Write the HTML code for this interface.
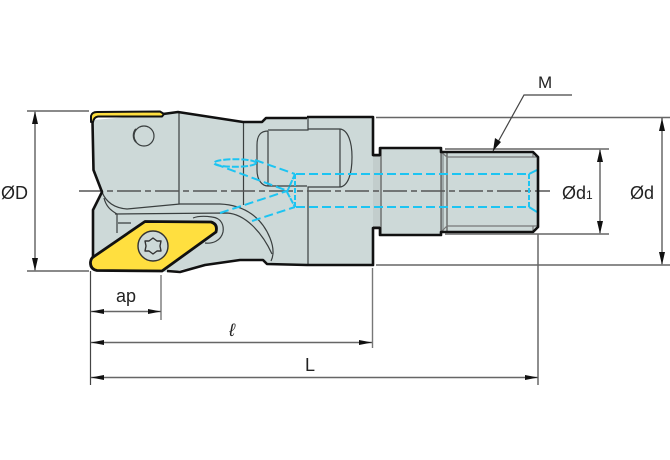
<!DOCTYPE html>
<html><head><meta charset="utf-8"><style>
html,body{margin:0;padding:0;background:#fff;width:670px;height:460px;overflow:hidden}
svg{display:block}
text{font-family:"Liberation Sans",sans-serif;fill:#222}
</style></head><body>
<svg width="670" height="460" viewBox="0 0 670 460" xmlns="http://www.w3.org/2000/svg">
<!-- body fill -->
<path d="M93 120 L93.5 170 L102 192 L93 210 L93 262 L100 270 L170 272 L205 265 L240 260 L263 260 L267 264 L307 265 L373 265 L373 228 L380 228 L380 235 L441 235 L441 232 L533 232 L538 227 L538 157 L533 152 L441 152 L441 148 L380 148 L380 155 L373 155 L373 117 L307 117 L307 118 L266 118 L262 122 L243 122 L178 112 L163 114 Z" fill="#cdd9d8"/>
<path d="M441 152 H444 V232 H441 Z" fill="#9fa9a9"/>
<path d="M373 156 H380 V227 H373 Z" fill="#c2cdcc"/>
<!-- thin inner lines -->
<g fill="none" stroke="#3a3f3f" stroke-width="1.2">
<path d="M179 113 V204"/>
<path d="M243.500 122 V205"/>
<path d="M102 192 C106 202 114 208 127 209 L180 204 L220 204 C245 205 262 218 270 238 C274 248 274 255 271 261"/>
<path d="M115 214 L227 213 C245 214 262 232 272 254"/>
<path d="M104 198 C106 206 110 210 117 214 V233 M118 223 H131"/>
<path d="M193 218 C198 216 205 216 212 217 C222 218 224 226 223 232 C221 241 212 244 205 243"/>
<circle cx="144" cy="136" r="10"/>
<path d="M136 142 A10 10 0 0 1 136 129" stroke-width="1.800"/>
<path d="M268 131 C260 131 257 136 257 145 V170 C257 180 262 186 268 186 H307 M268 131 V186"/>
<path d="M308 118 V130 H268"/>
<path d="M308 129 H340 C348 130 352 142 352 157 C352 174 348 186 340 187 H308 V265"/>
<path d="M340 129 V187"/>
<path d="M381 149 V234" stroke="#555"/>
<path d="M373 156 H380 M373 227 H380" stroke="#555"/>
<path d="M441 152 V232" stroke="#555"/>
<path d="M447 152 V231" stroke="#555"/>
<path d="M441 152 L447 157 H538 M441 232 L447 226 H538" stroke="#777"/>
<path d="M533 152 V157 M533 226 V232" stroke="#777"/>
</g>
<!-- centre line -->
<path d="M79 191 H550" fill="none" stroke="#555" stroke-width="1.400" stroke-dasharray="24 4 6 4"/>
<!-- cyan hidden lines -->
<g fill="none" stroke="#1cc4f2" stroke-width="2" stroke-dasharray="9 4">
<path d="M296 174 H529 M296 207 H529"/>
<path d="M295 174 V207" stroke-dasharray="5 2"/>
<path d="M529 174 V207" stroke-dasharray="5 2"/>
<path d="M529 174 L537 170 M529 207 L537 212" stroke-dasharray="none"/>
<ellipse cx="235" cy="163" rx="21" ry="3.800" stroke-dasharray="7 2"/>
<path d="M215 164 L288 191"/>
<path d="M255 160 L295 174"/>
<path d="M220 213 L287 191"/>
<path d="M252 221 L295 207"/>
<path d="M287 192 L295 174 M287 192 L295 207" stroke-dasharray="6 1"/>
</g>
<!-- bold outline -->
<g fill="none" stroke="#111" stroke-width="2.600" stroke-linejoin="round">
<path d="M92.500 122 L93.500 170 L102 192 L93 210 L93 258"/>
<path d="M163 114 L178 112 L243 122 L262 122 L266 118 L307 118 M307 117 H373 V155 H380 V148 H441 V152 H533 L538 157 V227 L533 232 H441 V235 H380 V228 H373 V265 H307 L267 264 L263 260 L240 260 L205 265 L180 272 L167 271"/>
</g>
<!-- top yellow insert -->
<path d="M91 122 L91 116 Q92 112 97 112 L160 111.500 L164 114 L162 116.500 L98 116.500 Q94 117 93 122 Z" fill="#ffdf3f" stroke="#111" stroke-width="2" stroke-linejoin="round"/>
<!-- bottom insert -->
<path d="M145 221.500 L211 222 Q218 224 216 232 L162 271 L97 270.500 Q90 269 90.500 262 Q91 258 94 256.500 Z" fill="#ffdf3f" stroke="#111" stroke-width="2.800" stroke-linejoin="round"/>
<circle cx="153" cy="246" r="15" fill="#cdd9d8" stroke="#333" stroke-width="1.400"/>
<path d="M153 238 L157 241 L161 241 L160 246 L161 251 L157 251 L153 254 L149 251 L145 251 L146 246 L145 241 L149 241 Z" fill="none" stroke="#333" stroke-width="1.400" stroke-linejoin="round"/>
<!-- dimension lines -->
<g fill="none" stroke="#444" stroke-width="1.200">
<path d="M27 111 H89 M27 271 H89"/>
<path d="M35 112 V270"/>
<path d="M90.500 271 V385"/>
<path d="M161 275 V320" stroke="#777" stroke-width="1.400"/>
<path d="M372.500 268 V348" stroke="#777" stroke-width="1.400"/>
<path d="M538 234 V385"/>
<path d="M91 311.500 H161 M91 342.500 H372 M91 377.500 H538" stroke="#666" stroke-width="1.400"/>
<path d="M376 117.500 H670 M376 265 H670" stroke="#666" stroke-width="1.400"/>
<path d="M445 149 H609 M445 234 H609" stroke="#666" stroke-width="1.400"/>
<path d="M600 150 V233 M662 118 V264"/>
<path d="M572 95 H524 L493 151"/>
</g>
<g fill="#111">
<path d="M35 111 L32 124 H38 Z M35 271 L32 258 H38 Z"/>
<path d="M91 311.500 L104 309 V314 Z M161 311.500 L148 309 V314 Z"/>
<path d="M91 342.500 L104 340 V345 Z M372 342.500 L359 340 V345 Z"/>
<path d="M91 377.500 L104 375 V380 Z M538 377.500 L525 375 V380 Z"/>
<path d="M600 149 L597 162 H603 Z M600 234 L597 221 H603 Z"/>
<path d="M662 118 L659 131 H665 Z M662 265 L659 252 H665 Z"/>
<path d="M493 151 L495 138 L501 142 Z"/>
</g>
<!-- labels -->
<text x="1" y="199" font-size="18">ØD</text>
<text x="116" y="302" font-size="18">ap</text>
<text x="229" y="336" font-size="18" font-style="italic" font-family="Liberation Serif">ℓ</text>
<text x="305" y="371" font-size="18">L</text>
<text x="538" y="88" font-size="17">M</text>
<text x="562" y="199" font-size="18">Ød<tspan font-size="12">1</tspan></text>
<text x="630" y="199" font-size="18">Ød</text>
</svg>
</body></html>
